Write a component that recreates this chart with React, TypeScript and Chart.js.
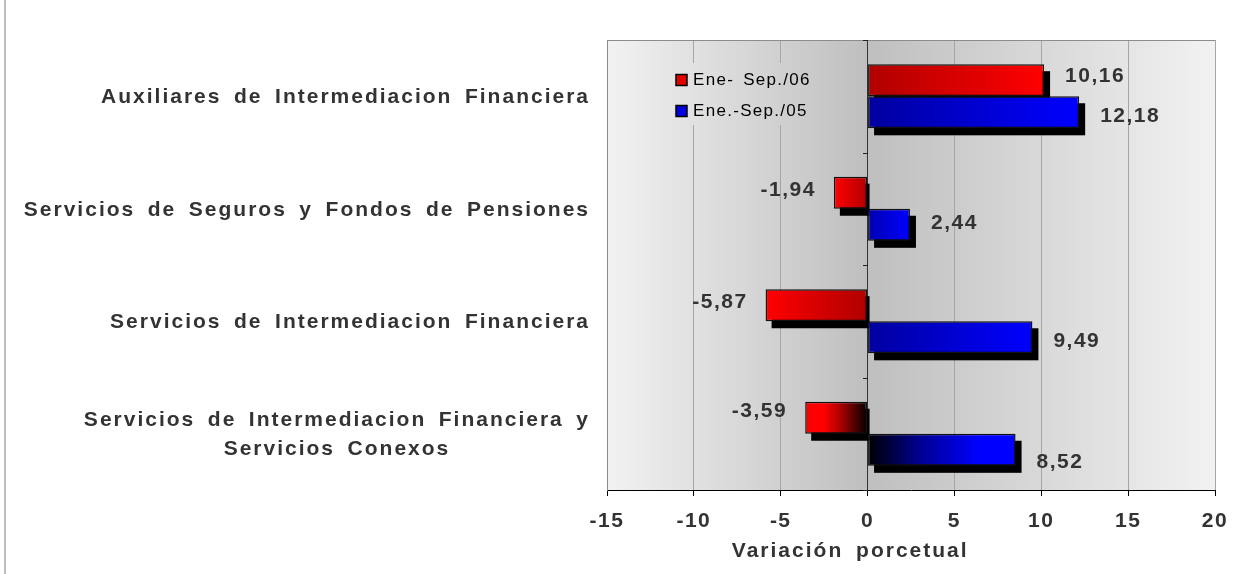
import React, { useEffect, useRef } from 'react';
import { Chart, registerables } from 'chart.js';

Chart.register(...registerables);

// ---------- data ----------
const categories: string[][] = [
  ['Auxiliares de Intermediacion Financiera'],
  ['Servicios de Seguros y Fondos de Pensiones'],
  ['Servicios de Intermediacion Financiera'],
  ['Servicios de Intermediacion Financiera y', 'Servicios Conexos'],
];
const seriesLabels = ['Ene- Sep./06', 'Ene.-Sep./05'];
const values06 = [10.16, -1.94, -5.87, -3.59];
const values05 = [12.18, 2.44, 9.49, 8.52];
const xMin = -15;
const xMax = 20;
const xStep = 5;
const axisTitle = 'Variación porcetual';

// ---------- styles ----------
const FONT = '"Liberation Sans", Arial, sans-serif';
const TEXT = '#333333';
const redStops: [number, string][][] = [
  [[0, '#b00000'], [1, '#ff0000']],
  [[0, '#b00000'], [1, '#ff0000']],
  [[0, '#b00000'], [1, '#ff0000']],
  [[0, '#000000'], [0.45, '#b00000'], [0.7, '#ff0000'], [1, '#ff0000']],
];
const blueStops: [number, string][][] = [
  [[0, '#0000a0'], [1, '#0000ff']],
  [[0, '#0000b0'], [1, '#0000ff']],
  [[0, '#0000a0'], [1, '#0000ff']],
  [[0, '#000000'], [0.35, '#000090'], [0.75, '#0000ff'], [1, '#0000ff']],
];
const labelDy = [
  [-4, -3, -3, -7],
  [4, -2, 4, 12],
];
const legendColors = ['#e00000', '#0000e0'];

function barGradient(chart: any, value: number, stops: [number, string][]) {
  const xs = chart.scales && chart.scales.x;
  if (!xs || !chart.chartArea || value === undefined) return stops[stops.length - 1][1];
  const x0 = xs.getPixelForValue(0);
  const x1 = xs.getPixelForValue(value);
  if (Math.abs(x1 - x0) < 1) return stops[stops.length - 1][1];
  const g = chart.ctx.createLinearGradient(x0, 0, x1, 0);
  stops.forEach(([o, c]) => g.addColorStop(o, c));
  return g;
}

function fillBackground(chart: any, clip?: { x: number; y: number; w: number; h: number }) {
  const { ctx, chartArea: a, scales } = chart;
  const x0 = scales.x.getPixelForValue(0);
  ctx.save();
  if (clip) {
    ctx.beginPath();
    ctx.rect(clip.x, clip.y, clip.w, clip.h);
    ctx.clip();
  }
  let g = ctx.createLinearGradient(a.left, 0, x0, 0);
  g.addColorStop(0, '#f2f2f2');
  g.addColorStop(1, '#bfbfbf');
  ctx.fillStyle = g;
  ctx.fillRect(a.left, a.top, x0 - a.left, a.bottom - a.top);
  g = ctx.createLinearGradient(x0, 0, a.right, 0);
  g.addColorStop(0, '#bfbfbf');
  g.addColorStop(1, '#f2f2f2');
  ctx.fillStyle = g;
  ctx.fillRect(x0, a.top, a.right - x0, a.bottom - a.top);
  ctx.restore();
}

const customPlugin = {
  id: 'customLook',
  beforeDraw(chart: any) {
    chart.ctx.letterSpacing = '1.5px';
    fillBackground(chart);
  },
  beforeDatasetsDraw(chart: any) {
    const { ctx, chartArea: a, scales } = chart;
    // legend inside plot
    const lx = a.left + 55;
    const ly = a.top + 23;
    fillBackground(chart, { x: lx, y: ly, w: 170, h: 62 });
    ctx.save();
    ctx.font = `17px ${FONT}`;
    ctx.letterSpacing = '1.3px';
    ctx.wordSpacing = '3px';
    ctx.textBaseline = 'middle';
    ctx.textAlign = 'left';
    seriesLabels.forEach((lab, i) => {
      const cy = ly + 17 + i * 31;
      ctx.fillStyle = legendColors[i];
      ctx.fillRect(lx + 14, cy - 5.5, 11, 11);
      ctx.strokeStyle = '#000';
      ctx.lineWidth = 1.5;
      ctx.strokeRect(lx + 14, cy - 5.5, 11, 11);
      ctx.fillStyle = '#000';
      ctx.fillText(lab, lx + 31, cy);
    });
    ctx.restore();

    // shadows
    const x0 = scales.x.getPixelForValue(0);
    ctx.save();
    ctx.fillStyle = '#000';
    chart.data.datasets.forEach((ds: any, di: number) => {
      const meta = chart.getDatasetMeta(di);
      meta.data.forEach((el: any, i: number) => {
        const { x, y, base, height } = el.getProps(['x', 'y', 'base', 'height'], true);
        const left = Math.min(x, base) + 6;
        let right = Math.max(x, base) + 6;
        if (ds.data[i] < 0) right = x0 + 2;
        ctx.fillRect(left, y - height / 2 + 7, right - left, height);
      });
    });
    ctx.restore();
  },
  afterDatasetsDraw(chart: any) {
    const { ctx } = chart;
    ctx.save();
    ctx.font = `bold 21px ${FONT}`;
    ctx.letterSpacing = '1.5px';
    ctx.fillStyle = TEXT;
    ctx.textBaseline = 'middle';
    chart.data.datasets.forEach((ds: any, di: number) => {
      const meta = chart.getDatasetMeta(di);
      meta.data.forEach((el: any, i: number) => {
        const v = ds.data[i];
        const { x, y } = el.getProps(['x', 'y'], true);
        const txt = v.toFixed(2).replace('.', ',');
        const yy = y + labelDy[di][i];
        if (v >= 0) {
          ctx.textAlign = 'left';
          ctx.fillText(txt, x + 21, yy);
        } else {
          ctx.textAlign = 'right';
          ctx.fillText(txt, x - 18, yy);
        }
      });
    });
    ctx.restore();
  },
  afterDraw(chart: any) {
    const { ctx, chartArea: a, scales } = chart;
    ctx.save();
    // top border
    ctx.strokeStyle = '#8c8c8c';
    ctx.lineWidth = 1;
    ctx.beginPath();
    ctx.moveTo(a.left, a.top + 0.5);
    ctx.lineTo(a.right, a.top + 0.5);
    ctx.stroke();
    // category tick marks on zero line
    const x0 = Math.round(scales.x.getPixelForValue(0));
    ctx.strokeStyle = '#222';
    for (let i = 0; i <= categories.length; i++) {
      const yy = Math.round(scales.y.getPixelForValue(i - 0.5)) + 0.5;
      ctx.beginPath();
      ctx.moveTo(x0 - 5, yy);
      ctx.lineTo(x0, yy);
      ctx.stroke();
    }
    // category labels
    ctx.font = `bold 21px ${FONT}`;
    ctx.letterSpacing = '2px';
    ctx.wordSpacing = '4.7px';
    ctx.fillStyle = TEXT;
    ctx.textBaseline = 'middle';
    ctx.textAlign = 'center';
    categories.forEach((lines, i) => {
      const yc = scales.y.getPixelForValue(i);
      const w = Math.max(...lines.map((l) => ctx.measureText(l).width));
      const cx = a.left - 17 - w / 2;
      const lh = 29;
      lines.forEach((l, j) => {
        ctx.fillText(l, cx, yc + 1 + (j - (lines.length - 1) / 2) * lh);
      });
    });
    // axis title
    ctx.wordSpacing = '5px';
    ctx.fillText(axisTitle, a.left + 0.4 * (a.right - a.left), chart.height - 23);
    ctx.restore();
  },
};

export default function App() {
  const ref = useRef<HTMLCanvasElement | null>(null);
  useEffect(() => {
    if (!ref.current) return;
    const chart = new Chart(ref.current, {
      type: 'bar',
      data: {
        labels: categories,
        datasets: [
          {
            label: seriesLabels[0],
            data: values06,
            backgroundColor: (c: any) => barGradient(c.chart, values06[c.dataIndex], redStops[c.dataIndex] || redStops[0]),
            borderColor: '#111',
            borderWidth: 1.5,
            borderSkipped: false,
            categoryPercentage: 0.57,
            barPercentage: 1,
          },
          {
            label: seriesLabels[1],
            data: values05,
            backgroundColor: (c: any) => barGradient(c.chart, values05[c.dataIndex], blueStops[c.dataIndex] || blueStops[0]),
            borderColor: '#111',
            borderWidth: 1.5,
            borderSkipped: false,
            categoryPercentage: 0.57,
            barPercentage: 1,
          },
        ],
      },
      options: {
        indexAxis: 'y',
        animation: false,
        responsive: false,
        events: [],
        layout: { padding: { left: 8, top: 40, right: 32, bottom: 0 } },
        plugins: {
          legend: { display: false },
          tooltip: { enabled: false },
          title: { display: false },
        },
        scales: {
          x: {
            type: 'linear',
            min: xMin,
            max: xMax,
            ticks: {
              stepSize: xStep,
              font: { family: FONT, size: 21, weight: 'bold' },
              color: TEXT,
              padding: 13,
            },
            grid: {
              color: (c: any) => (c.tick && c.tick.value === 0 ? '#333' : '#a6a6a6'),
              tickColor: '#000',
              tickLength: 6,
              lineWidth: 1,
            },
            border: { display: true, color: '#000', width: 1 },
            afterFit: (s: any) => {
              s.height = 84;
            },
          },
          y: {
            type: 'category',
            ticks: { display: false },
            grid: { display: false },
            border: { display: true, color: '#8c8c8c', width: 1 },
            afterFit: (s: any) => {
              s.width = 599;
            },
          },
        },
      },
      plugins: [customPlugin],
    } as any);
    return () => chart.destroy();
  }, []);

  return (
    <div style={{ position: 'fixed', left: 0, top: 0, width: 1247, height: 574, background: '#fff' }}>
      <div style={{ position: 'absolute', left: 4, top: 0, width: 2, height: 574, background: '#bdbdbd' }} />
      <canvas ref={ref} width={1247} height={574} style={{ position: 'absolute', left: 0, top: 0 }} />
    </div>
  );
}
